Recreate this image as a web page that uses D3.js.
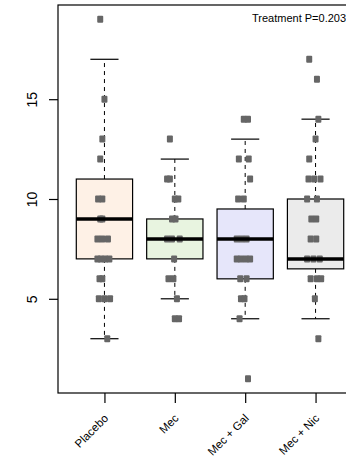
<!DOCTYPE html>
<html>
<head>
<meta charset="utf-8">
<script src="https://cdn.jsdelivr.net/npm/d3@7"></script>
<style>
  html, body { margin: 0; padding: 0; background: #fff; }
  svg { display: block; font-family: "Liberation Sans", Arial, Helvetica, sans-serif; }
</style>
</head>
<body>
<svg id="chart" width="346" height="458"></svg>
<script>
// Treatment groups and their box fills
const categories = ["Placebo", "Mec", "Mec + Gal", "Mec + Nic"];
const fills = ["#fef1e6", "#e8f4e0", "#e6e6fa", "#ebebeb"];

// Box summaries per group: lower whisker, Q1, median, Q3, upper whisker
const whiskerLow = [3, 5, 4, 4];
const q1 = [7, 7, 6, 6.5];
const median = [9, 8, 8, 7];
const q3 = [11, 9, 9.5, 10];
const whiskerHigh = [17, 12, 13, 14];

// Individual observations per group, with their horizontal jitter (category units)
const placeboValues = [19, 15, 13, 12, 10, 10, 9, 9, 8, 8, 8, 7, 7, 7, 7, 6, 6, 5, 5, 5, 3];
const placeboJitter = [-0.06, 0, -0.03, -0.06, -0.09, -0.03, -0.06, -0.03, -0.10, -0.03, 0.05, -0.10, -0.05, 0.01, 0.07, -0.07, -0.03, -0.08, 0, 0.08, 0.04];
const mecValues = [13, 11, 11, 10, 10, 9, 9, 8, 8, 8, 7, 6, 6, 5, 4, 4];
const mecJitter = [-0.07, -0.11, -0.07, 0.00, 0.05, -0.04, 0.01, -0.11, -0.04, 0.07, -0.01, -0.09, -0.02, 0.03, 0, 0.06];
const galValues = [14, 14, 12, 12, 11, 10, 10, 8, 8, 8, 7, 7, 7, 7, 6, 6, 5, 5, 4, 1];
const galJitter = [-0.02, 0.04, -0.09, 0.05, 0.07, -0.10, -0.02, -0.12, -0.05, 0.02, -0.12, -0.06, 0.01, 0.07, -0.07, 0.02, -0.06, -0.01, -0.08, 0.04];
const nicValues = [17, 16, 14, 13, 12, 11, 11, 11, 10, 10, 9, 9, 8, 8, 7, 7, 7, 6, 6, 6, 5, 3];
const nicJitter = [-0.09, 0.02, 0.04, 0, -0.09, -0.10, -0.02, 0.07, -0.12, 0.02, -0.06, 0.01, -0.07, 0.01, -0.12, -0.03, 0.06, -0.07, 0.02, 0.08, -0.01, 0.04];

const yTicks = [5, 10, 15];
const pLabel = "Treatment P=0.203";

const groupValues = [placeboValues, mecValues, galValues, nicValues];
const groupJitter = [placeboJitter, mecJitter, galJitter, nicJitter];

// Plot region
const plotLeft = 58, plotRight = 362, plotTop = 5, plotBottom = 393;

const svg = d3.select("#chart");

const x = d3.scalePoint().domain(categories).range([plotLeft, plotRight]).padding(0.66);
const step = x.step();
const y = d3.scaleLinear().domain([0.28, 19.72]).range([plotBottom, plotTop]);

const boxW = step * 0.8;
const capW = boxW / 2;

// Boxes, whiskers
const g = svg.append("g");
categories.forEach((c, i) => {
  const cx = x(c);
  // dashed whiskers
  g.append("line")
    .attr("x1", cx).attr("x2", cx)
    .attr("y1", y(q3[i])).attr("y2", y(whiskerHigh[i]))
    .attr("stroke", "#000").attr("stroke-width", 1).attr("stroke-dasharray", "4,4");
  g.append("line")
    .attr("x1", cx).attr("x2", cx)
    .attr("y1", y(q1[i])).attr("y2", y(whiskerLow[i]))
    .attr("stroke", "#000").attr("stroke-width", 1).attr("stroke-dasharray", "4,4");
  // caps
  [whiskerHigh[i], whiskerLow[i]].forEach(v => {
    g.append("line")
      .attr("x1", cx - capW / 2).attr("x2", cx + capW / 2)
      .attr("y1", y(v)).attr("y2", y(v))
      .attr("stroke", "#000").attr("stroke-width", 1.2);
  });
  // box
  g.append("rect")
    .attr("x", cx - boxW / 2).attr("y", y(q3[i]))
    .attr("width", boxW).attr("height", y(q1[i]) - y(q3[i]))
    .attr("fill", fills[i]).attr("stroke", "#000").attr("stroke-width", 1.2);
});

// Points
categories.forEach((c, i) => {
  const vals = groupValues[i], jit = groupJitter[i];
  g.selectAll(null)
    .data(vals.map((v, k) => ({ v, j: jit[k] })))
    .enter().append("rect")
    .attr("x", d => x(c) + d.j * step - 3)
    .attr("y", d => y(d.v) - 3.5)
    .attr("width", 6).attr("height", 7)
    .attr("rx", 1)
    .attr("fill", "#666666");
});

// Medians on top
categories.forEach((c, i) => {
  const cx = x(c);
  g.append("line")
    .attr("x1", cx - boxW / 2).attr("x2", cx + boxW / 2)
    .attr("y1", y(median[i])).attr("y2", y(median[i]))
    .attr("stroke", "#000").attr("stroke-width", 3.5);
});

// Frame
svg.append("rect")
  .attr("x", plotLeft).attr("y", plotTop)
  .attr("width", plotRight - plotLeft).attr("height", plotBottom - plotTop)
  .attr("fill", "none").attr("stroke", "#000").attr("stroke-width", 1.2);

// Y axis
const yAxis = svg.append("g")
  .attr("transform", `translate(${plotLeft},0)`)
  .call(d3.axisLeft(y).tickValues(yTicks).tickSize(9).tickFormat(d3.format("d")));
yAxis.select(".domain").remove();
yAxis.selectAll(".tick line").attr("stroke", "#000").attr("stroke-width", 1.2);
yAxis.selectAll(".tick text")
  .attr("transform", "rotate(-90)")
  .attr("x", 0).attr("y", -21).attr("dy", null)
  .attr("text-anchor", "middle")
  .attr("font-size", 14).attr("fill", "#000")
  .attr("font-family", "Liberation Sans, Arial, sans-serif");

// X axis
const xAxis = svg.append("g")
  .attr("transform", `translate(0,${plotBottom})`)
  .call(d3.axisBottom(x).tickSize(10));
xAxis.select(".domain").remove();
xAxis.selectAll(".tick line").attr("stroke", "#000").attr("stroke-width", 1.2);
xAxis.selectAll(".tick text")
  .attr("y", null).attr("dy", null)
  .attr("transform", "translate(4,26) rotate(-45)")
  .attr("text-anchor", "end")
  .attr("font-size", 11.5).attr("fill", "#000")
  .attr("font-family", "Liberation Sans, Arial, sans-serif");

// Test statistic
svg.append("text")
  .attr("x", 252).attr("y", 22)
  .attr("font-size", 11)
  .attr("fill", "#000")
  .text(pLabel);
</script>
</body>
</html>
